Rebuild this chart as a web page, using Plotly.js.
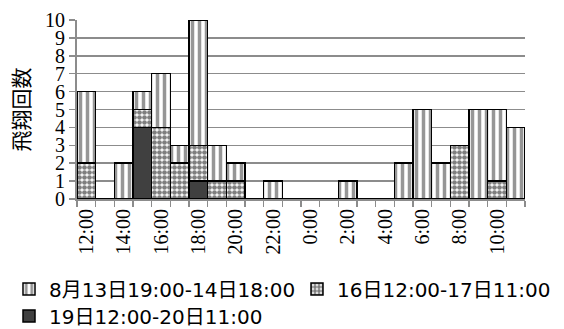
<!DOCTYPE html>
<html>
<head>
<meta charset="utf-8">
<script src="https://cdn.plot.ly/plotly-3.0.1.min.js"></script>
<style>html,body{margin:0;padding:0;background:#fff;}#chart{width:564px;height:329px;}</style>
</head>
<body>
<div id="chart"></div>
<script>
// Categories: hour of day
var hours = ["12:00","13:00","14:00","15:00","16:00","17:00","18:00","19:00","20:00","21:00","22:00","23:00",
             "0:00","1:00","2:00","3:00","4:00","5:00","6:00","7:00","8:00","9:00","10:00","11:00"];
// Series values (number of flights)
var seriesAug13 = [4,0,2,1,3,1,7,2,1,0,1,0,0,0,1,0,0,2,5,2,0,5,4,4];
var seriesAug16 = [2,0,0,1,4,2,2,1,1,0,0,0,0,0,0,0,0,0,0,0,3,0,1,0];
var seriesAug19 = [0,0,0,4,0,0,1,0,0,0,0,0,0,0,0,0,0,0,0,0,0,0,0,0];
var seriesNames = ["8月13日19:00-14日18:00","16日12:00-17日11:00","19日12:00-20日11:00"];
var yTitle = "飛翔回数";
// Shown tick labels: every other hour
var shownLabels = hours.filter(function(h, i){ return i % 2 === 0; });

var alias = {};
hours.forEach(function(h){ if(shownLabels.indexOf(h) < 0) alias[h] = ""; });

var serif = "Liberation Serif";
var legendFont = {family:"DejaVu Sans, Noto Sans CJK JP", size:20, color:"#000"};
var edge = {color:"#000000", width:1.5};
var traces = [
  {type:"bar", name:seriesNames[2], x:hours, y:seriesAug19, legend:"legend3",
   marker:{color:"#404040", line:edge}},
  {type:"bar", name:seriesNames[1], x:hours, y:seriesAug16, legend:"legend2",
   marker:{color:"#ffffff", line:edge,
     pattern:{shape:".", size:5, solidity:0.7, fgcolor:"#000000", bgcolor:"#ffffff", fillmode:"overlay"}}},
  {type:"bar", name:seriesNames[0], x:hours, y:seriesAug13, legend:"legend",
   marker:{color:"#ffffff", line:edge,
     pattern:{shape:"|", size:7, solidity:0.5, fgcolor:"#2e2e2e", bgcolor:"#ffffff", fillmode:"overlay"}}}
];

function leg(px, py){
  return {orientation:"h", xref:"container", yref:"container",
    x:px/564, xanchor:"left", y:(329-py)/329, yanchor:"middle",
    font:legendFont, itemclick:false, bgcolor:"rgba(0,0,0,0)"};
}

var layout = {
  width:564, height:329,
  font:{family:serif, size:20, color:"#000"},
  margin:{l:77, r:39, t:20, b:130, autoexpand:false},
  paper_bgcolor:"#ffffff", plot_bgcolor:"#ffffff",
  barmode:"stack", bargap:0,
  showlegend:true,
  legend:leg(9, 289),
  legend2:leg(297, 289),
  legend3:leg(9, 316),
  xaxis:{type:"category", categoryorder:"array", categoryarray:hours,
    tickmode:"linear", tick0:0, dtick:1, tickson:"boundaries",
    labelalias:alias,
    ticks:"outside", ticklen:6, tickwidth:1.5, tickcolor:"#8c8c8c",
    showline:true, linecolor:"#8c8c8c", linewidth:2,
    showgrid:false, zeroline:false, tickangle:-90,
    tickfont:{family:serif, size:20, color:"#000"},
    range:[-0.5, 23.5], fixedrange:true},
  yaxis:{range:[0,10], tickmode:"linear", tick0:0, dtick:1,
    ticks:"outside", ticklen:6, tickwidth:1.5, tickcolor:"#8c8c8c",
    showline:true, linecolor:"#8c8c8c", linewidth:2,
    showgrid:true, gridcolor:"#8c8c8c", gridwidth:1.5, zeroline:false,
    tickfont:{family:serif, size:20, color:"#000"},
    title:{text:yTitle, font:{family:"Noto Sans CJK JP", size:21, color:"#000"}, standoff:10},
    fixedrange:true}
};

Plotly.newPlot("chart", traces, layout, {displayModeBar:false, staticPlot:true});
</script>
</body>
</html>
